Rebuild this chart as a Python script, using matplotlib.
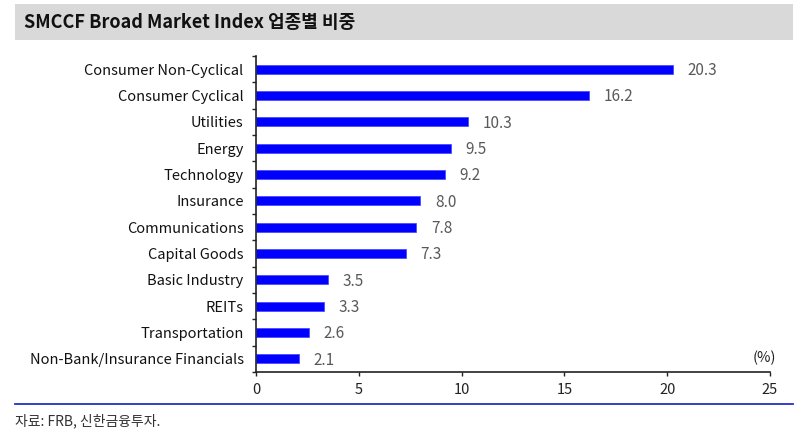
import matplotlib.pyplot as plt
import numpy as np
from matplotlib.lines import Line2D
from matplotlib.patches import Rectangle

plt.rcParams['font.family'] = ['Noto Sans CJK KR', 'DejaVu Sans']

# 업종별 비중 (%)
sectors = ["Consumer Non-Cyclical", "Consumer Cyclical", "Utilities", "Energy",
           "Technology", "Insurance", "Communications", "Capital Goods",
           "Basic Industry", "REITs", "Transportation",
           "Non-Bank/Insurance Financials"]
weights = [20.3, 16.2, 10.3, 9.5, 9.2, 8.0, 7.8, 7.3, 3.5, 3.3, 2.6, 2.1]
x_ticks = [0, 5, 10, 15, 20, 25]

fig = plt.figure(figsize=(8, 4.36), dpi=100)

# 제목 바
fig.patches.append(Rectangle((15 / 800, 1 - 40 / 436), 778 / 800, 36 / 436,
                             transform=fig.transFigure, facecolor="#d9d9d9",
                             edgecolor="none", zorder=0))
fig.text(24 / 800, 1 - 22 / 436, "SMCCF Broad Market Index 업종별 비중",
         fontsize=13, fontweight="bold", color="#111111", va="center", ha="left")

ax = fig.add_axes([256 / 800, 64 / 436, 514 / 800, 316 / 436])
y = np.arange(len(sectors))
ax.barh(y, weights, height=0.33, color="#0000ff", edgecolor="#4040ff", linewidth=0.5)

for yi, v in zip(y, weights):
    ax.text(v + 0.7, yi + 0.05, f"{v:.1f}", va="center", ha="left",
            fontsize=11, color="#595959")

ax.set_ylim(len(sectors) - 0.5, -0.5)
ax.set_xlim(0, 25)
ax.set_xticks(x_ticks)
ax.set_yticks(y)
ax.set_yticklabels(sectors, fontsize=10.5, color="#111111")
ax.set_yticks(np.arange(len(sectors) + 1) - 0.5, minor=True)
ax.tick_params(axis="y", which="major", length=0, pad=9)
ax.tick_params(axis="y", which="minor", length=3, width=1, color="#222222", direction="out")
ax.tick_params(axis="x", length=3, width=1, color="#222222", labelsize=10.5,
               labelcolor="#222222", pad=5)

for s in ["top", "right"]:
    ax.spines[s].set_visible(False)
for s in ["left", "bottom"]:
    ax.spines[s].set_color("#222222")
    ax.spines[s].set_linewidth(1.2)

ax.text(0.99, 0.045, "(%)", transform=ax.transAxes, ha="center", va="center",
        fontsize=10.5, color="#222222")

# 하단 파란 선과 출처
fig.lines.append(Line2D([15 / 800, 793 / 800], [1 - 404 / 436] * 2,
                        transform=fig.transFigure, color="#1f2fcc", linewidth=1.3))
fig.text(15 / 800, 1 - 421 / 436, "자료: FRB, 신한금융투자.", fontsize=10,
         color="#333333", ha="left", va="center")

fig.savefig("out.png", dpi=100)
